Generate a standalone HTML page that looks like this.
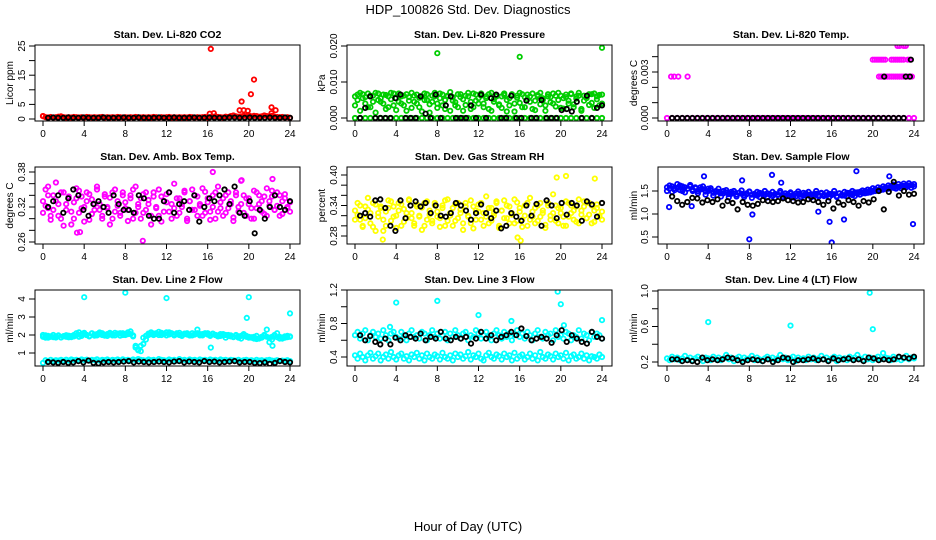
<!DOCTYPE html>
<html><head><meta charset="utf-8">
<style>
html,body{margin:0;padding:0;background:#fff;}
svg{display:block;font-family:"Liberation Sans",Arial,sans-serif;}
</style></head>
<body>
<svg id="chart" width="936" height="540" viewBox="0 0 936 540">
<text x="468" y="14" text-anchor="middle" font-size="13">HDP_100826  Std. Dev. Diagnostics</text>
<text x="468" y="531" text-anchor="middle" font-size="13">Hour of Day (UTC)</text>
</svg>
<script>
// ---- data (values in panel units x scale) ----
const xTicks = [0,4,8,12,16,20,24];
// CO2 (x0.1 ppm)
const co2Color = [10,6,5,7,5,6,8,9,6,5,6,5,7,6,5,6,5,7,6,5,6,5,6,7,5,6,5,6,5,7,6,5,6,5,6,5,7,6,5,6,5,6,5,7,6,5,6,5,6,7,5,6,5,6,5,6,5,7,6,5,6,5,6,7,5,6,8,9,7,6,5,8,7,10,12,9,8,9,11,10,12,9,11,10,8,9,12,10,9,11,8,7,6,7,5,6,4];
const co2Black = [4,5,4,4,5,4,4,5,4,4,4,5,4,4,4,5,4,4,5,4,4,4,5,4,4,5,4,4,4,5,4,4,5,4,4,4,5,5,4,4,5,4,4,4,5,4,4,5,4];
const co2OutHours = [0,16.2,16.3,16.6,19.1,19.3,19.5,19.9,20.2,20.5,22.2,22.2,22.6];
const co2OutVals = [10,18,240,20,30,60,30,28,85,135,40,20,30];
// Pressure (x0.0001 kPa)
const presZero = [0,0,0,0,0,0,0,0,0,0,0,0,0,0,0,0,0,0,0,0,0,0,0,0,0,0,0,0,0,0,0,0,0,0,0,0,0,0,0,0,0,0,0,0,0,0,0,0,0];
const presA = [60,65,70,55,40,68,30,62,70,50,45,65,25,60,70,35,55,68,40,62,20,58,70,45,65,30,60,68,50,15,62,70,40,55,65,25,60,72,48,35,66,58,20,62,70,45,30,65,55,68,40,60,25,70,52,64,35,60,68,18,55,66,40,62,70,30,58,65,45,68,22,60,70,50,35,66,58,40,62,70,28,55,65,48,68,38,60,70,25,62,55,66,42,68,60,35,65];
const presB = [35,50,20,66,58,30,62,45,15,68,55,40,64,30,52,68,22,45,60,35,66,48,28,62,40,56,18,50,66,38,45,60,28,68,35,50,62,20,58,44,30,66,52,36,60,25,68,48,40,62,30,55,66,20,45,60,38,28,64,50,35,62,18,56,42,66,30,52,60,25,48,64,38,55,20,60,44,68,32,50,62,26,58,40,66,30,54,62,20,48,60,36,66,28,52,64,40];
const presBlack = [0,28,60,0,0,0,0,55,65,0,0,0,60,12,0,65,0,35,60,0,0,0,35,0,65,0,55,65,0,0,62,0,0,48,0,0,50,0,0,0,22,25,18,45,0,62,0,28,35];
const presOutHours = [8,16,24];
const presOutVals = [180,170,195];
// Temp (x0.0001 C)
const tempZero = [0,0,0,0,0,0,0,0,0,0,0,0,0,0,0,0,0,0,0,0,0,0,0,0,0,0,0,0,0,0,0,0,0,0,0,0,0,0,0,0,0,0,0,0,0,0,0,0,0];
const tempHiHours = [0.4,0.7,1.1,2.0,20.6,20.8,21.0,21.2,21.4,21.6,21.8,22.0,22.2,22.4,22.6,22.8,23.0,23.2,23.4,23.6,23.8,20.0,20.2,20.4,20.6,20.8,21.0,21.2,21.8,22.0,22.2,22.4,22.6,22.8,23.0,23.4,23.6,22.4,22.6,23.0,23.2];
const tempHiVals = [27,27,27,27,27,27,27,27,27,27,27,27,27,27,27,27,27,27,27,27,27,38,38,38,38,38,38,38,38,38,38,38,38,38,38,38,38,47,47,47,47];
const tempBlack = [0,0,0,0,0,0,0,0,0,0,0,0,0,0,0,0,0,0,0,0,0,0,0,0,0,0,0,0,0,0,0,0,0,0,0,0,0,0,0,0,0,0,0,0,0,0,0];
const tempBlackHiHours = [21.1,23.2,23.6,23.7];
const tempBlackHiVals = [27,27,27,38];
// Amb box temp (x0.001 C)
const ambA = [330,350,318,305,340,362,325,300,345,315,335,290,328,352,310,338,320,345,298,333,315,355,325,305,342,318,336,300,350,322,310,345,328,315,340,300,355,320,335,310,345,325,305,338,318,350,295,330,342,312,325,360,305,335,320,345,300,330,350,315,338,322,305,346,328,312,340,300,355,318,335,310,345,325,302,340,320,365,310,335,325,300,348,318,340,330,308,352,322,338,315,345,305,330,342,318,328];
const ambB = [310,322,340,298,315,330,305,345,288,325,338,312,300,335,348,318,295,330,342,308,325,350,315,300,338,320,290,345,312,330,305,340,318,296,335,350,310,325,300,342,315,332,290,345,320,305,338,312,328,345,300,318,335,310,325,348,296,330,315,340,305,325,352,310,335,298,320,345,312,328,305,340,318,330,296,345,312,325,340,305,335,318,300,345,325,312,338,305,330,348,315,322,340,308,335,320,312];
const ambBlack = [320,330,340,310,335,350,340,315,305,325,330,320,310,340,325,315,315,310,340,335,305,300,300,330,345,310,325,330,315,340,295,320,335,330,340,350,325,355,310,305,330,275,315,300,320,340,320,315,330];
const ambOutHours = [3.3,3.6,9.7,16.5,22.3,0.5,19.3];
const ambOutVals = [276,277,262,380,368,355,366];
// Gas stream RH (x0.001)
const rhA = [330,345,312,300,338,355,325,298,342,318,335,290,328,350,310,338,320,345,300,333,315,352,325,305,342,318,336,300,348,322,310,345,328,315,340,300,352,320,335,310,345,325,305,338,318,350,295,330,342,312,325,358,305,335,320,345,300,330,350,315,338,322,305,346,328,312,340,300,355,318,335,310,345,325,302,340,320,362,310,335,325,300,348,318,340,330,308,352,322,338,315,345,305,330,342,318,328];
const rhB = [312,322,340,298,315,332,305,345,290,325,338,312,300,335,348,318,296,330,342,308,325,350,315,300,338,320,292,345,312,330,305,340,318,298,335,350,310,325,300,342,315,332,292,345,320,305,338,312,328,345,300,318,335,310,325,348,296,330,315,340,305,325,352,310,335,298,320,345,312,328,305,340,318,330,296,345,312,325,340,305,335,318,300,345,325,312,338,305,330,348,315,322,340,308,335,320,312];
const rhBlack = [320,325,318,350,352,335,300,290,350,315,340,348,338,345,325,340,320,318,325,345,340,330,312,325,342,325,315,330,295,300,325,318,310,340,320,343,300,350,340,315,345,322,345,340,310,348,342,318,345];
const rhOutHours = [2.7,16.1,19.6,20.5,15.8,23.3];
const rhOutVals = [273,271,395,398,277,393];
// Sample flow (x0.01)
const flowA = [158,155,160,152,157,162,150,158,155,160,153,156,150,158,154,149,155,152,146,150,148,145,150,147,143,148,145,142,146,144,141,145,148,142,144,140,146,143,141,145,142,139,144,141,146,142,140,143,145,141,138,144,142,140,145,141,143,139,144,141,146,142,140,144,141,143,139,145,142,140,146,143,141,147,144,148,145,150,146,152,149,154,151,156,153,158,155,160,157,155,159,156,161,158,162,157,160];
const flowB = [150,162,148,156,165,152,160,147,155,163,150,158,145,153,160,142,150,156,140,148,155,138,145,152,136,144,150,138,146,151,137,143,149,135,142,148,137,145,150,136,143,148,135,142,150,137,145,139,147,136,144,149,137,146,140,148,136,143,150,138,145,139,147,136,144,150,137,145,140,148,138,146,150,139,147,142,151,145,153,147,156,150,158,152,160,155,162,157,164,159,165,161,166,162,167,163,165];
const flowBlack = [138,128,120,126,135,134,125,130,126,132,118,128,124,110,126,120,118,122,130,128,126,128,134,130,128,125,126,132,130,126,120,128,112,125,120,130,126,118,128,125,132,150,110,148,170,140,150,142,144];
const flowOutHours = [0.2,8,8.3,16,15.8,17.2,23.9,3.6,10.2,18.4,2.4,7.3,14.7,11.1,21.6];
const flowOutVals = [115,45,99,38,83,88,78,182,185,193,117,173,105,168,182];
// Line 2 flow (x0.01)
const l2A = [200,185,195,190,188,192,198,186,194,190,196,188,192,198,190,205,212,200,195,210,202,198,205,210,200,195,212,205,198,208,210,200,205,215,205,198,140,120,110,150,175,200,205,208,210,200,212,205,198,215,208,202,210,200,195,205,210,200,198,205,210,198,205,208,210,200,205,200,198,195,205,200,195,198,190,200,185,195,205,195,190,185,190,195,180,185,195,190,185,190,200,210,190,180,185,195,192];
const l2B = [190,198,185,192,200,186,195,188,193,199,187,194,200,210,215,195,205,200,192,208,196,205,214,200,196,205,208,198,212,204,196,210,200,205,220,192,130,115,140,185,195,208,215,200,206,218,200,208,215,203,210,198,205,212,200,208,203,197,210,202,230,205,198,210,202,195,208,200,192,205,198,185,200,192,188,196,192,180,198,190,185,188,180,178,182,190,200,230,160,175,195,188,180,186,192,188,190];
const l2Low = [45,60,55,62,56,60,58,62,57,63,58,64,60,62,58,64,60,63,58,62,60,65,58,62,60,64,58,62,60,64,58,65,60,62,58,64,60,66,62,60,58,64,60,62,58,66,62,60,58,64,60,62,58,66,60,62,58,64,60,62,58,64,60,62,58,64,60,62,58,64,60,62,58,62,60,58,62,56,60,62,58,60,56,62,58,60,56,60,62,58,56,60,55,58,56,60,55];
const l2Black = [50,48,45,50,45,48,55,48,58,45,42,48,50,48,50,52,55,48,52,50,48,50,52,50,48,52,55,48,52,50,48,55,50,52,48,50,52,55,48,50,50,45,44,48,40,45,55,50,48];
const l2OutHours = [4,8,12,20,19.8,24,16.3,22.3];
const l2OutVals = [410,435,405,410,295,320,130,140];
// Line 3 flow (x0.01)
const l3A = [66,70,62,68,72,60,66,70,64,68,62,72,66,60,68,70,64,62,70,66,60,68,72,64,66,62,70,68,60,66,72,64,68,62,66,70,60,68,64,72,66,62,68,70,60,66,64,72,68,62,66,70,64,60,68,72,66,62,70,64,68,60,66,72,64,68,62,70,66,60,68,72,64,62,70,66,68,60,72,64,66,62,70,68,60,66,64,72,62,68,66,60,70,64,68,66,62];
const l3B = [42,38,44,40,36,42,45,38,41,44,36,40,43,38,46,40,37,42,44,38,41,36,43,40,45,38,42,36,44,40,38,43,41,37,45,40,38,42,36,44,40,43,38,41,46,37,42,40,44,38,36,42,45,40,38,43,41,37,44,40,42,36,45,38,41,43,37,40,44,38,42,36,46,40,38,43,41,37,44,40,42,38,45,36,41,43,38,40,44,38,42,36,41,40,38,43,40];
const l3Black = [66,60,65,58,55,62,55,63,60,66,64,62,68,60,64,62,70,62,60,64,62,64,56,62,70,62,66,60,64,66,70,66,74,65,60,62,64,62,57,66,72,58,66,62,58,56,70,64,62];
const l3OutHours = [4,8,12,19.7,20,24,15.2,3.4,20.3];
const l3OutVals = [105,107,90,118,103,84,83,76,78];
// Line 4 flow (x0.01)
const l4A = [24,22,26,23,25,22,24,27,23,25,22,24,26,23,21,25,24,22,26,23,25,22,24,28,23,25,21,24,26,22,25,23,24,27,22,25,23,21,24,26,23,25,22,24,28,23,25,22,24,26,21,25,23,24,22,26,23,25,22,24,27,23,25,22,24,26,21,25,23,24,22,26,23,25,28,24,22,26,23,25,22,24,26,23,30,25,24,22,26,23,25,22,24,27,23,25,24];
const l4Black = [23,23,21,22,21,20,25,22,23,22,23,25,24,22,20,22,23,22,21,23,20,22,25,24,20,22,22,23,24,22,23,21,24,22,23,24,22,23,21,25,24,22,23,22,23,26,25,24,26];
const l4OutHours = [4,12,19.7,20];
const l4OutVals = [65,61,98,57];

// ---- layout ----
const cols = [{l:35,r:300,x0:43,x1:290,tl:25,ttl:13},{l:347,r:612,x0:355,x1:602,tl:337,ttl:325},{l:658,r:924,x0:667,x1:914,tl:648,ttl:637}];
const rows = [{t:45,b:121,title:38},{t:167,b:244,title:160},{t:290,b:366,title:283}];
const C = {red:'#ff0000',green:'#00cd00',mag:'#ff00ff',yel:'#ffff00',blue:'#0000ff',cyan:'#00ffff',blk:'#000000'};

const panels = [
 {name:'co2',title:'Stan. Dev. Li-820 CO2',ylab:'Licor ppm',col:0,row:0,sc:0.1,y0v:0,y0p:119,y1v:25,y1p:46,ticks:[0,5,10,15,20,25],labels:['0','5','','15','','25'],
  series:[[co2Color,C.red],[co2Black,C.blk]],out:[[co2OutHours,co2OutVals,C.red]]},
 {name:'pressure',title:'Stan. Dev. Li-820 Pressure',ylab:'kPa',col:1,row:0,sc:0.0001,y0v:0,y0p:118,y1v:0.02,y1p:46,ticks:[0,0.01,0.02],labels:['0.000','0.010','0.020'],
  series:[[presZero,C.green],[presA,C.green],[presB,C.green],[presBlack,C.blk]],out:[[presOutHours,presOutVals,C.green]]},
 {name:'temp',title:'Stan. Dev. Li-820 Temp.',ylab:'degrees C',col:2,row:0,sc:0.0001,y0v:0,y0p:118,y1v:0.003,y1p:72,ticks:[0,0.001,0.002,0.003,0.004],labels:['0.000','','','0.003',''],
  series:[[tempZero,C.mag]],out:[[tempHiHours,tempHiVals,C.mag]],blackSeries:[[tempBlack,C.blk,0.5,23]],out2:[[tempBlackHiHours,tempBlackHiVals,C.blk]]},
 {name:'amb-box-temp',title:'Stan. Dev. Amb. Box Temp.',ylab:'degrees C',col:0,row:1,sc:0.001,y0v:0.26,y0p:242,y1v:0.38,y1p:172,ticks:[0.26,0.28,0.30,0.32,0.34,0.36,0.38],labels:['0.26','','','0.32','','','0.38'],
  series:[[ambA,C.mag],[ambB,C.mag],[ambBlack,C.blk]],out:[[ambOutHours,ambOutVals,C.mag]]},
 {name:'gas-stream-rh',title:'Stan. Dev. Gas Stream RH',ylab:'percent',col:1,row:1,sc:0.001,y0v:0.28,y0p:236,y1v:0.40,y1p:175,ticks:[0.28,0.30,0.32,0.34,0.36,0.38,0.40],labels:['0.28','','','0.34','','','0.40'],
  series:[[rhA,C.yel],[rhB,C.yel],[rhBlack,C.blk]],out:[[rhOutHours,rhOutVals,C.yel]]},
 {name:'sample-flow',title:'Stan. Dev. Sample Flow',ylab:'ml/min',col:2,row:1,sc:0.01,y0v:0.5,y0p:237,y1v:1.5,y1p:191,ticks:[0.5,1.0,1.5],labels:['0.5','1.0','1.5'],
  series:[[flowA,C.blue],[flowB,C.blue],[flowBlack,C.blk]],out:[[flowOutHours,flowOutVals,C.blue]]},
 {name:'line2-flow',title:'Stan. Dev. Line 2 Flow',ylab:'ml/min',col:0,row:2,sc:0.01,y0v:1,y0p:353,y1v:4,y1p:299,ticks:[1,2,3,4],labels:['1','2','3','4'],
  series:[[l2A,C.cyan],[l2B,C.cyan],[l2Low,C.cyan],[l2Black,C.blk]],out:[[l2OutHours,l2OutVals,C.cyan]]},
 {name:'line3-flow',title:'Stan. Dev. Line 3 Flow',ylab:'ml/min',col:1,row:2,sc:0.01,y0v:0.4,y0p:357,y1v:1.2,y1p:290,ticks:[0.4,0.6,0.8,1.0,1.2],labels:['0.4','','0.8','','1.2'],
  series:[[l3A,C.cyan],[l3B,C.cyan],[l3Black,C.blk]],out:[[l3OutHours,l3OutVals,C.cyan]]},
 {name:'line4-flow',title:'Stan. Dev. Line 4 (LT) Flow',ylab:'ml/min',col:2,row:2,sc:0.01,y0v:0.2,y0p:362,y1v:1.0,y1p:291,ticks:[0.2,0.4,0.6,0.8,1.0],labels:['0.2','','0.6','','1.0'],
  series:[[l4A,C.cyan],[l4Black,C.blk]],out:[[l4OutHours,l4OutVals,C.cyan]]}
];

const NS='http://www.w3.org/2000/svg';
const svg=document.getElementById('chart');
function mk(tag,attrs,parent){const e=document.createElementNS(NS,tag);for(const k in attrs)e.setAttribute(k,attrs[k]);(parent||svg).appendChild(e);return e;}

panels.forEach(p=>{
  const c=cols[p.col], r=rows[p.row];
  const g=mk('g',{});
  
  
  const xs=h=>c.x0+(h/24)*(c.x1-c.x0);
  const ys=v=>p.y0p+(v-p.y0v)/(p.y1v-p.y0v)*(p.y1p-p.y0p);
  const cg=mk('clipPath',{id:'clip-'+p.name},g);
  mk('rect',{x:c.l,y:r.t,width:c.r-c.l,height:r.b-r.t},cg);
  const t=mk('text',{x:(c.l+c.r)/2,y:r.title,'text-anchor':'middle','font-size':'10.5','font-weight':'bold'},g);
  t.textContent=p.title;
  
  
  const marks=mk('g',{'clip-path':'url(#clip-'+p.name+')',fill:'none','stroke-width':'1.8'},g);
  
  
  function dot(h,v,col){
    const e=mk('circle',{cx:xs(h).toFixed(1),cy:ys(v).toFixed(1),r:2.2,stroke:col},marks);
    
    
  }
  const drawSeries=(arr,col,h0,h1)=>{const a=h0===undefined?0:h0,b=h1===undefined?24:h1;
    arr.forEach((v,i)=>dot(a+i*(b-a)/(arr.length-1),v*p.sc,col));};
  const colored=p.series.filter(s=>s[1]!==C.blk), black=p.series.filter(s=>s[1]===C.blk);
  colored.forEach(s=>drawSeries(s[0],s[1]));
  (p.out||[]).forEach(o=>o[0].forEach((h,i)=>dot(h,o[1][i]*p.sc,o[2])));
  black.forEach(s=>drawSeries(s[0],s[1],0.5,24));
  (p.blackSeries||[]).forEach(s=>drawSeries(s[0],s[1],s[2],s[3]));
  (p.out2||[]).forEach(o=>o[0].forEach((h,i)=>dot(h,o[1][i]*p.sc,o[2])));
  const box=mk('rect',{x:c.l,y:r.t,width:c.r-c.l,height:r.b-r.t,fill:'none',stroke:'#000','stroke-width':'1'},g);
  
  
  const xa=mk('g',{},g);
  
  
  xTicks.forEach(h=>{const x=xs(h);
    mk('line',{x1:x,x2:x,y1:r.b,y2:r.b+5,stroke:'#000'},xa);
    const tt=mk('text',{x:x,y:r.b+16,'text-anchor':'middle','font-size':'10'},xa);tt.textContent=h;});
  const ya=mk('g',{},g);
  
  
  p.ticks.forEach((v,i)=>{const y=ys(v);
    mk('line',{x1:c.l-6,x2:c.l,y1:y,y2:y,stroke:'#000'},ya);
    if(p.labels[i]){const tt=mk('text',{x:c.tl,y:y,'text-anchor':'middle','font-size':'10',transform:'rotate(-90 '+c.tl+' '+y+')'},ya);tt.textContent=p.labels[i];}});
  const ym=(r.t+r.b)/2;
  const yl=mk('text',{x:c.ttl,y:ym,'text-anchor':'middle','font-size':'10',transform:'rotate(-90 '+c.ttl+' '+ym+')'},g);
  yl.textContent=p.ylab;
  
  
});
</script>
</body></html>
